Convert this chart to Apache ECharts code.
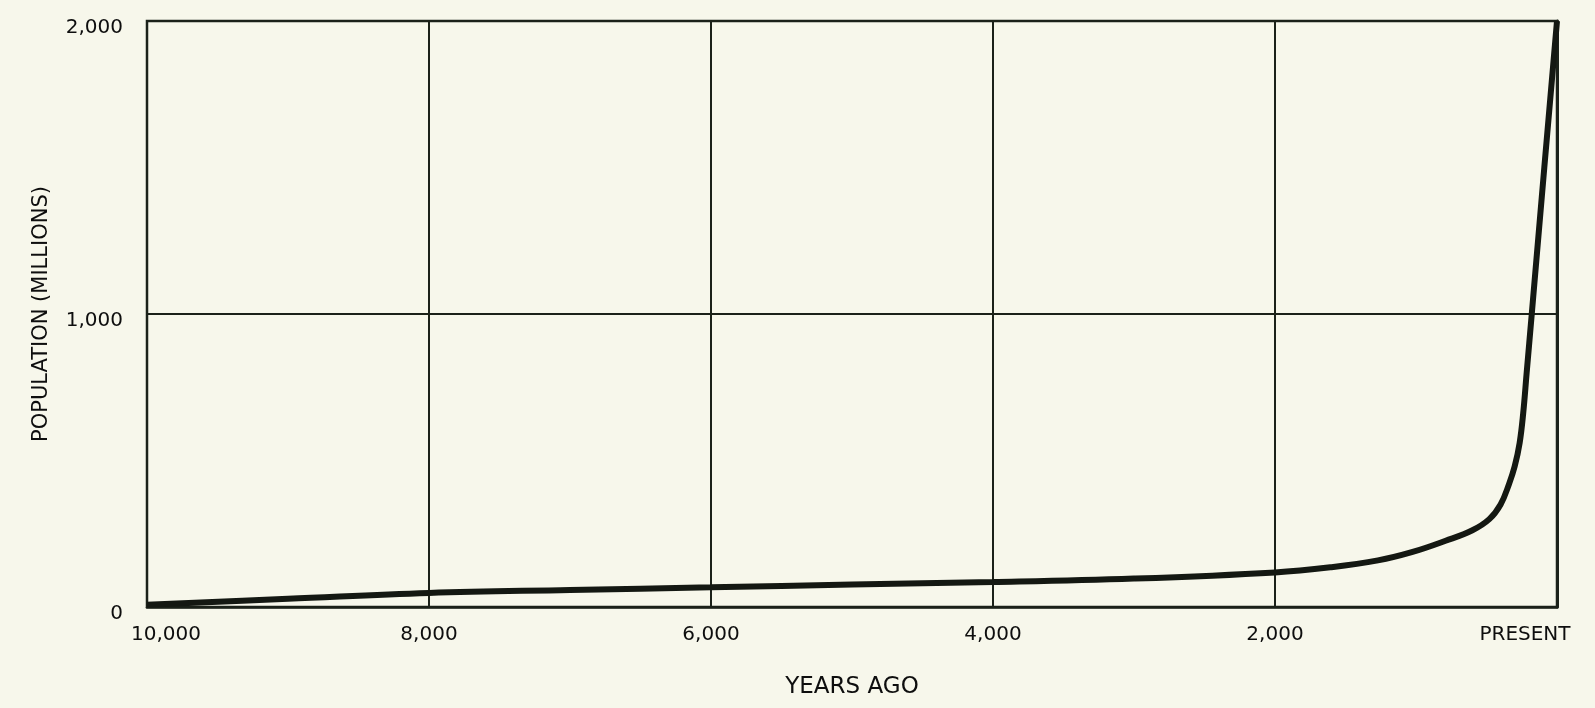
<!DOCTYPE html>
<html>
<head>
<meta charset="utf-8">
<script src="https://cdn.jsdelivr.net/npm/echarts@6/dist/echarts.min.js"></script>
<style>
html,body{margin:0;padding:0;background:#f7f7eb;}
#chart{width:1595px;height:708px;}
</style>
</head>
<body>
<div id="chart"></div>
<script>
// Data
const yearsAgo   = [10000, 9000, 8000, 7000, 6000, 5000, 4000, 3000, 2000, 1600, 1270, 1030, 790, 600, 480, 400, 340, 300, 265, 240, 215, 179, 90, 0];
const population = [8, 28, 48, 58, 67, 77, 85, 97, 118, 136, 159, 187, 226, 262, 300, 350, 420, 480, 560, 660, 800, 1000, 1500, 2000];

const xTicks = [10000, 8000, 6000, 4000, 2000, 0];
const xTickLabels = ['10,000', '8,000', '6,000', '4,000', '2,000', 'PRESENT'];
const yTicks = [0, 1000, 2000];
const yTickLabels = ['0', '1,000', '2,000'];

const xAxisName = 'YEARS AGO';
const yAxisName = 'POPULATION (MILLIONS)';

const ink = '#1b2119';
const textInk = '#0e0e0e';
const font = 'DejaVu Sans';

const chart = echarts.init(document.getElementById('chart'));
chart.setOption({
  backgroundColor: '#f7f7eb',
  animation: false,
  grid: { left: 147, right: 38, top: 21, bottom: 101, show: true, borderColor: ink, borderWidth: 2.5, backgroundColor: 'transparent' },
  xAxis: {
    type: 'value', inverse: true, min: 0, max: 10000, interval: 2000,
    name: xAxisName, nameLocation: 'middle', nameGap: 69,
    nameTextStyle: { color: textInk, fontSize: 23, fontFamily: font },
    axisLine: { show: true, lineStyle: { color: ink, width: 2.5 } },
    axisTick: { show: false },
    splitLine: { show: true, lineStyle: { color: ink, width: 2 } },
    axisLabel: {
      margin: 18, color: textInk, fontSize: 20, fontFamily: font,
      formatter: function (v) {
        const i = xTicks.indexOf(v);
        const t = i >= 0 ? xTickLabels[i] : '';
        if (v === 10000) return '{l|' + t + '}';
        if (v === 0) return '{r|' + t + '}';
        return t;
      },
      rich: {
        l: { fontSize: 20, fontFamily: font, color: textInk, padding: [0, 0, 0, 38] },
        r: { fontSize: 20, fontFamily: font, color: textInk, padding: [0, 64, 0, 0] }
      }
    }
  },
  yAxis: {
    type: 'value', min: 0, max: 2000, interval: 1000,
    name: yAxisName, nameLocation: 'middle', nameGap: 95,
    nameTextStyle: { color: textInk, fontSize: 21, fontFamily: font },
    axisLine: { show: true, lineStyle: { color: ink, width: 3 } },
    axisTick: { show: false },
    splitLine: { show: true, lineStyle: { color: ink, width: 2 } },
    axisLabel: {
      margin: 24, color: textInk, fontSize: 20, fontFamily: font,
      formatter: function (v) { const i = yTicks.indexOf(v); return '{a|' + (i >= 0 ? yTickLabels[i] : '') + '}'; },
      rich: { a: { fontSize: 20, fontFamily: font, color: textInk, padding: [14, 0, 0, 0] } }
    }
  },
  series: [{
    type: 'line',
    data: yearsAgo.map((x, i) => [x, population[i]]),
    smooth: 0.4,
    showSymbol: false,
    lineStyle: { color: '#141812', width: 6 },
    z: 5
  }]
});
</script>
</body>
</html>
